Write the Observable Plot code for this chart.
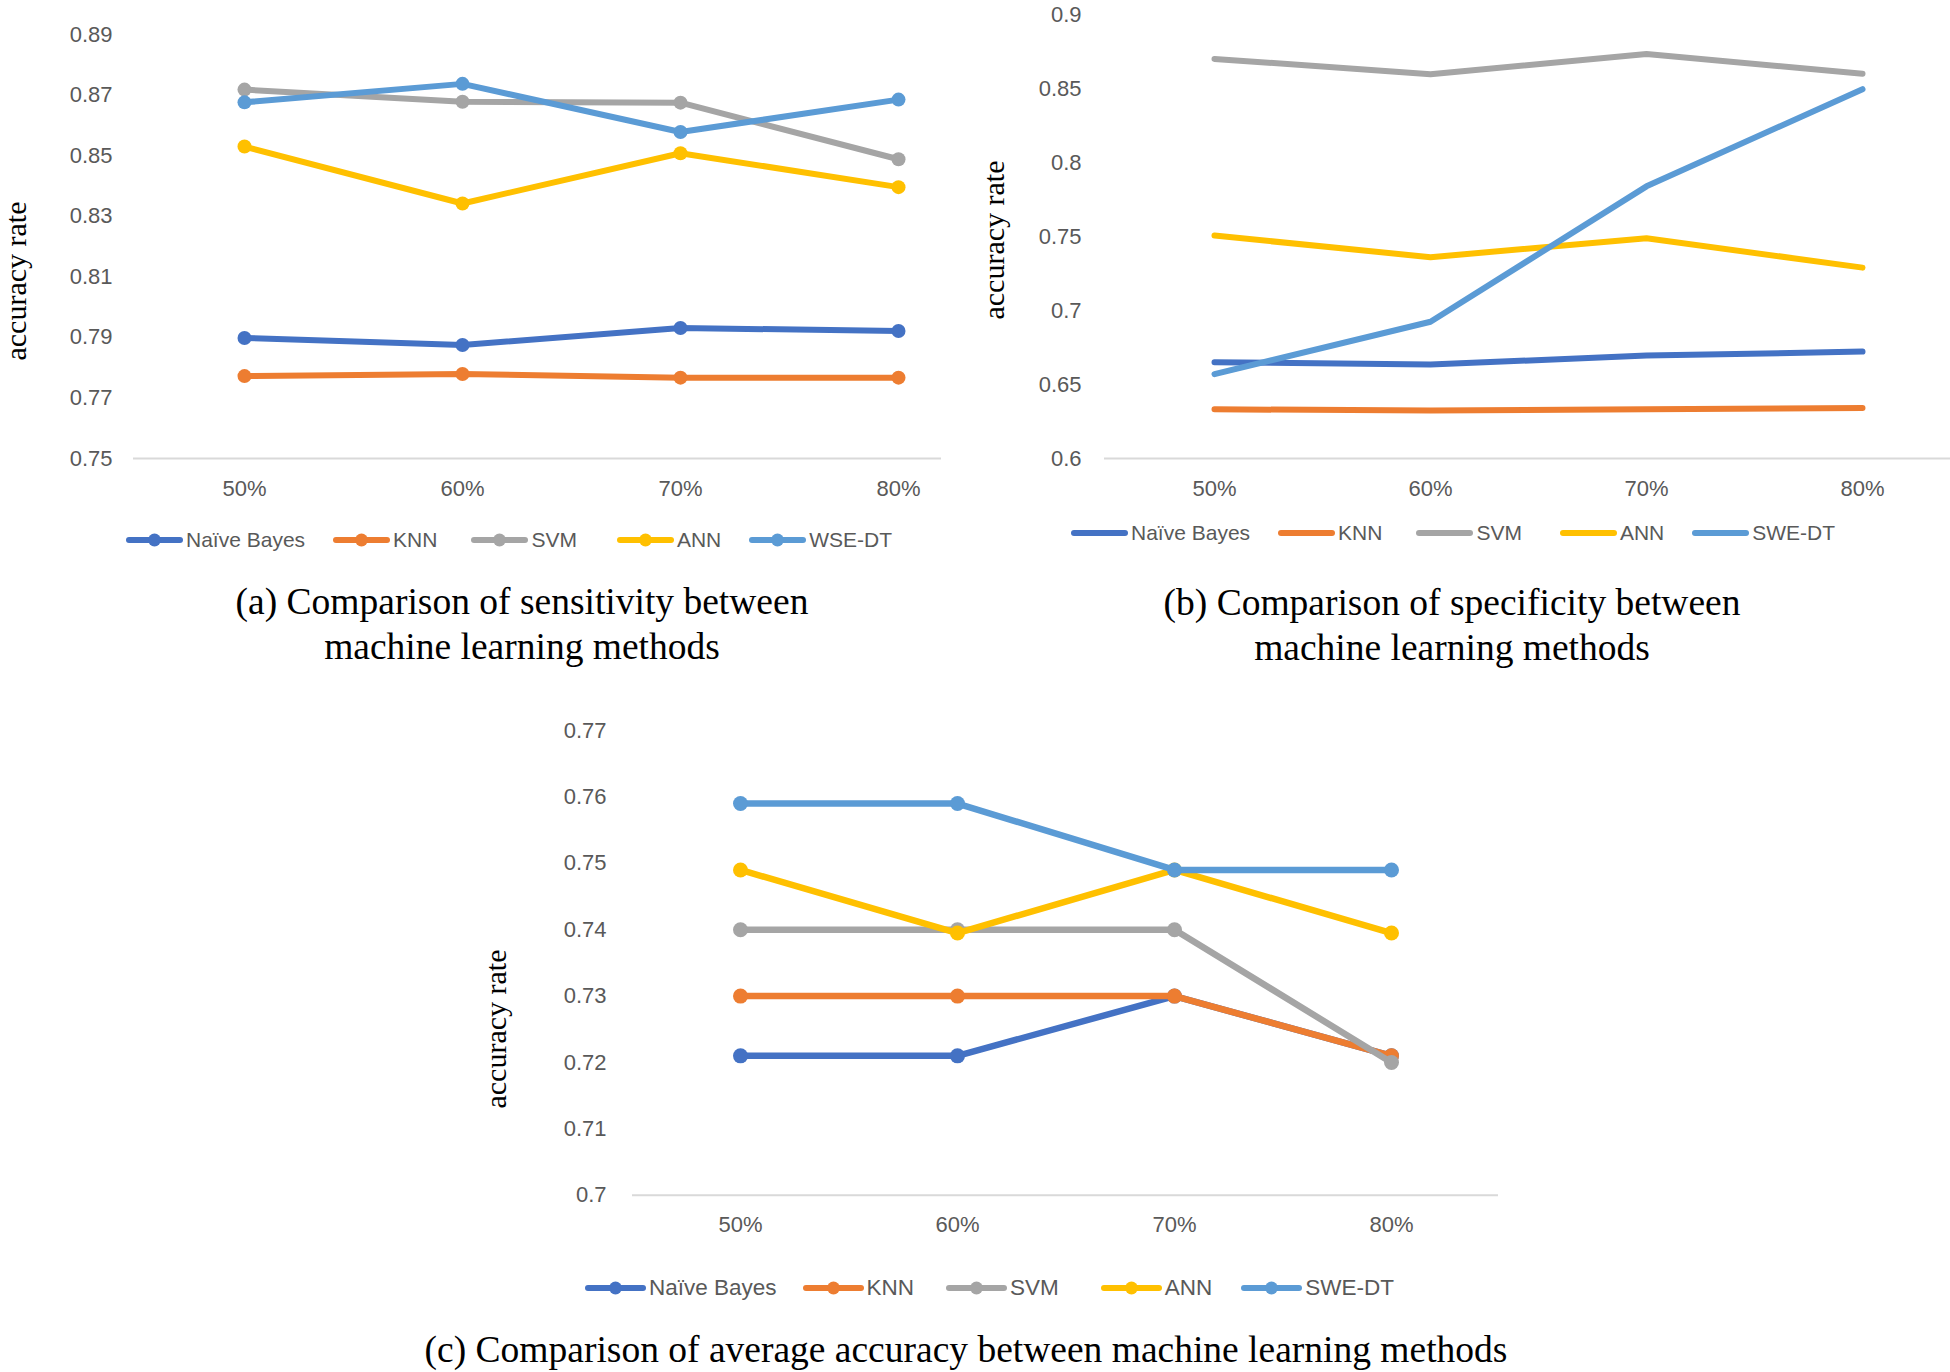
<!DOCTYPE html>
<html>
<head>
<meta charset="utf-8">
<script src="https://cdn.jsdelivr.net/npm/d3@7"></script>
<script src="https://cdn.jsdelivr.net/npm/@observablehq/plot@0.6"></script>
<style>
  body { margin: 0; background: #fff; }
  #root { position: relative; width: 1950px; height: 1372px; background: #fff; overflow: hidden; }
  .chart { position: absolute; }
  .ytitle { position: absolute; font-family: "Liberation Serif", "Times New Roman", serif; font-size: 30px; color: #000;
            white-space: nowrap; transform: translate(-50%, -50%) rotate(-90deg); }
  .caption { position: absolute; font-family: "Liberation Serif", "Times New Roman", serif; font-size: 37.5px; color: #000;
             text-align: center; line-height: 45px; transform: translateX(-50%); white-space: nowrap; }
  .legend { position: absolute; display: flex; align-items: center; font-family: "Liberation Sans", Arial, sans-serif;
            font-size: 21px; color: #595959; transform: translateY(-50%); white-space: nowrap; }
  .legend .item { display: flex; align-items: center; margin-right: 30px; }
  .legend svg { margin-right: 3px; }
</style>
</head>
<body>
<div id="root"></div>
<script>
// ---------- data ----------
const categories = ["50%", "60%", "70%", "80%"];
const methodsA = ["Naïve Bayes", "KNN", "SVM", "ANN", "WSE-DT"];
const methodsBC = ["Naïve Bayes", "KNN", "SVM", "ANN", "SWE-DT"];
const palette = ["#4472C4", "#ED7D31", "#A5A5A5", "#FFC000", "#5B9BD5"];

// (a) sensitivity
const sensNB  = [0.7898, 0.7875, 0.7931, 0.7921];
const sensKNN = [0.7772, 0.7779, 0.7767, 0.7767];
const sensSVM = [0.8718, 0.8678, 0.8675, 0.8488];
const sensANN = [0.8530, 0.8342, 0.8508, 0.8396];
const sensWSE = [0.8676, 0.8737, 0.8578, 0.8685];
const ticksA = [0.75, 0.77, 0.79, 0.81, 0.83, 0.85, 0.87, 0.89];

// (b) specificity
const specNB  = [0.6651, 0.6636, 0.6696, 0.6723];
const specKNN = [0.6333, 0.6324, 0.6333, 0.6342];
const specSVM = [0.8703, 0.8599, 0.8736, 0.8602];
const specANN = [0.7508, 0.7362, 0.7490, 0.7291];
const specSWE = [0.6571, 0.6925, 0.7841, 0.8498];
const ticksB = [0.6, 0.65, 0.7, 0.75, 0.8, 0.85, 0.9];

// (c) average accuracy
const accNB  = [0.721, 0.721, 0.730, 0.721];
const accKNN = [0.730, 0.730, 0.730, 0.721];
const accSVM = [0.740, 0.740, 0.740, 0.720];
const accANN = [0.749, 0.7395, 0.749, 0.7395];
const accSWE = [0.759, 0.759, 0.749, 0.749];
const ticksC = [0.7, 0.71, 0.72, 0.73, 0.74, 0.75, 0.76, 0.77];

const captionA = ["(a) Comparison of sensitivity between", "machine learning methods"];
const captionB = ["(b) Comparison of specificity between", "machine learning methods"];
const captionC = ["(c) Comparison of average accuracy between machine learning methods"];
const yTitle = "accuracy rate";

// ---------- helpers ----------
function rows(methods, series) {
  const out = [];
  methods.forEach((m, i) => series[i].forEach((v, j) => out.push({method: m, cat: categories[j], value: v})));
  return out;
}
const fmt = d => String(+d.toFixed(2));
const root = document.getElementById("root");

function makeChart(cfg) {
  const data = rows(cfg.methods, cfg.series);
  const marks = [
    Plot.ruleY([cfg.yDomain[0]], {stroke: "#D9D9D9", strokeWidth: 2}),
    Plot.axisY(cfg.ticks, {tickSize: 0, tickPadding: cfg.yPad, tickFormat: fmt, label: null}),
    Plot.axisX({tickSize: 0, tickPadding: 21.5, label: null})
  ];
  cfg.methods.forEach(m => {
    const d = data.filter(r => r.method === m);
    marks.push(Plot.line(d, {x: "cat", y: "value", stroke: "method", strokeWidth: cfg.lw, curve: "linear"}));
    if (cfg.dots) marks.push(Plot.dot(d, {x: "cat", y: "value", fill: "method", r: cfg.r}));
  });
  const svg = Plot.plot({
    width: cfg.width, height: cfg.height,
    marginLeft: cfg.ml, marginRight: cfg.mr, marginTop: cfg.mt, marginBottom: cfg.mb,
    x: {type: "point", domain: categories, range: cfg.xRange, padding: 0, axis: null},
    y: {domain: cfg.yDomain, axis: null},
    color: {domain: cfg.methods, range: palette},
    style: {fontFamily: "'Liberation Sans', Arial, sans-serif", fontSize: "22px", color: "#595959", background: "transparent", overflow: "visible"},
    marks
  });
  svg.classList.add("chart");
  svg.style.left = cfg.left + "px";
  svg.style.top = cfg.top + "px";
  root.appendChild(svg);

  // y title
  const t = document.createElement("div");
  t.className = "ytitle";
  t.textContent = yTitle;
  t.style.left = cfg.titleX + "px";
  t.style.top = cfg.titleY + "px";
  root.appendChild(t);

  // legend
  const lg = document.createElement("div");
  lg.className = "legend";
  lg.style.left = cfg.legendX + "px";
  lg.style.top = cfg.legendY + "px";
  lg.style.fontSize = cfg.legendFont + "px";
  const sw = cfg.swatchW;
  cfg.methods.forEach((m, i) => {
    const item = document.createElement("div");
    item.className = "item";
    item.style.marginRight = (cfg.legendGap[i] ?? 30) + "px";
    const s = `<svg width="${sw}" height="16"><line x1="3" y1="8" x2="${sw - 3}" y2="8" stroke="${palette[i]}" stroke-width="6" stroke-linecap="round"/>` +
      (cfg.dots ? `<circle cx="${sw / 2}" cy="8" r="6.5" fill="${palette[i]}"/>` : "") + `</svg>`;
    item.innerHTML = s + `<span>${m}</span>`;
    lg.appendChild(item);
  });
  root.appendChild(lg);

  // caption
  const c = document.createElement("div");
  c.className = "caption";
  c.innerHTML = cfg.caption.join("<br>");
  c.style.left = cfg.capX + "px";
  c.style.top = cfg.capY + "px";
  root.appendChild(c);
}

// (a)
makeChart({
  methods: methodsA, series: [sensNB, sensKNN, sensSVM, sensANN, sensWSE], ticks: ticksA,
  yDomain: [0.75, 0.89], dots: true, lw: 6, r: 7,
  left: 0, top: 0, width: 975, height: 520, ml: 133, mr: 34, mt: 34, mb: 62, xRange: [243.5, 899], yPad: 21,
  titleX: 16, titleY: 281, legendX: 126, legendY: 540, legendGap: [28, 34, 40, 28, 0], legendFont: 21, swatchW: 57,
  caption: captionA, capX: 522, capY: 579
});
// (b)
makeChart({
  methods: methodsBC, series: [specNB, specKNN, specSVM, specANN, specSWE], ticks: ticksB,
  yDomain: [0.6, 0.9], dots: false, lw: 6, r: 7,
  left: 975, top: 0, width: 975, height: 520, ml: 129, mr: 0, mt: 14.5, mb: 62, xRange: [239, 887], yPad: 23,
  titleX: 994, titleY: 240, legendX: 1071, legendY: 533, legendGap: [28, 34, 38, 28, 0], legendFont: 21, swatchW: 57,
  caption: captionB, capX: 1452, capY: 580
});
// (c)
makeChart({
  methods: methodsBC, series: [accNB, accKNN, accSVM, accANN, accSWE], ticks: ticksC,
  yDomain: [0.7, 0.77], dots: true, lw: 6.5, r: 7.5,
  left: 400, top: 686, width: 1150, height: 570, ml: 232, mr: 52, mt: 44, mb: 61.2, xRange: [339, 991], yPad: 26,
  titleX: 496, titleY: 1029, legendX: 585, legendY: 1288, legendGap: [26, 32, 42, 29, 0], legendFont: 22.5, swatchW: 61,
  caption: captionC, capX: 966, capY: 1327
});
</script>
</body>
</html>
